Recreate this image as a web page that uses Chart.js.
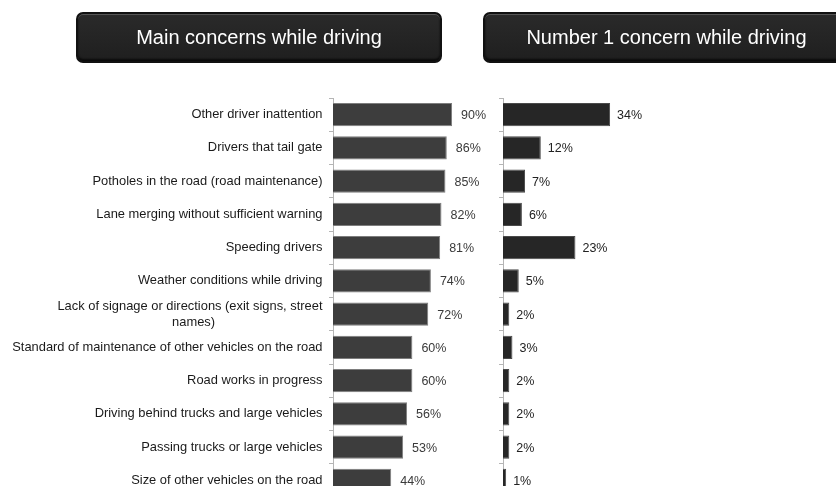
<!DOCTYPE html>
<html>
<head>
<meta charset="utf-8">
<script src="https://cdn.jsdelivr.net/npm/chart.js@4/dist/chart.umd.min.js"></script>
<style>
  html, body { margin: 0; padding: 0; width: 836px; height: 486px; overflow: hidden; background: #fff; }
  .cv { position: absolute; left: 0; top: 0; }
  .hdr {
    position: absolute; top: 12px; height: 51px; box-sizing: border-box;
    background: linear-gradient(#2a2a2a, #1f1f1f);
    border: 2px solid #111; border-radius: 7px;
    box-shadow: inset 0 1px 0 #555, inset 0 -2px 2px #0a0a0a;
    color: #fff; font-family: "Liberation Sans", Arial, sans-serif; font-size: 20px;
    display: flex; align-items: center; justify-content: center; z-index: 5;
  }
</style>
</head>
<body>
<div class="hdr" style="left:76px; width:366px;">Main concerns while driving</div>
<div class="hdr" style="left:483px; width:367px;">Number 1 concern while driving</div>
<canvas id="left" class="cv" width="836" height="520"></canvas>
<canvas id="right" class="cv" width="836" height="520"></canvas>
<script>
const categories = [
  "Other driver inattention",
  "Drivers that tail gate",
  "Potholes in the road (road maintenance)",
  "Lane merging without sufficient warning",
  "Speeding drivers",
  "Weather conditions while driving",
  ["Lack of signage or directions (exit signs, street", "names)" + " ".repeat(30)],
  "Standard of maintenance of other vehicles on the road",
  "Road works in progress",
  "Driving behind trucks and large vehicles",
  "Passing trucks or large vehicles",
  "Size of other vehicles on the road"
];
const mainConcerns = [90, 86, 85, 82, 81, 74, 72, 60, 60, 56, 53, 44];
const numberOneConcern = [34, 12, 7, 6, 23, 5, 2, 3, 2, 2, 2, 1];

const FONT = "'Liberation Sans', Arial, sans-serif";

function valueLabels(offset, color) {
  return {
    id: 'valueLabels',
    afterDatasetsDraw(chart) {
      const ctx = chart.ctx;
      const meta = chart.getDatasetMeta(0);
      const data = chart.data.datasets[0].data;
      ctx.save();
      ctx.font = "12.5px " + FONT;
      ctx.fillStyle = color;
      ctx.textAlign = 'left';
      ctx.textBaseline = 'middle';
      meta.data.forEach((bar, i) => {
        ctx.fillText(data[i] + '%', bar.x + offset, bar.y + 1);
      });
      ctx.restore();
    }
  };
}

function makeChart(id, values, opts) {
  return new Chart(document.getElementById(id), {
    type: 'bar',
    data: {
      labels: categories,
      datasets: [{
        data: values,
        backgroundColor: opts.fill,
        borderColor: opts.border,
        borderWidth: 1,
        borderSkipped: 'left',
        barPercentage: 0.7,
        categoryPercentage: 1.0
      }]
    },
    options: {
      indexAxis: 'y',
      responsive: false,
      animation: false,
      layout: { padding: { top: 98, bottom: 23, left: 0, right: opts.padRight } },
      plugins: { legend: { display: false }, tooltip: { enabled: false } },
      scales: {
        x: { display: false, min: 0, max: opts.max },
        y: {
          afterFit(scale) { scale.width = opts.axisWidth; },
          border: { display: true, color: '#b5b5b5', width: 1 },
          grid: { display: true, drawOnChartArea: false, drawTicks: true, tickLength: 4, color: '#b5b5b5', offset: true },
          ticks: {
            display: opts.showLabels,
            autoSkip: false,
            padding: 6.5,
            color: '#1a1a1a',
            font: { family: FONT, size: 12.9, lineHeight: 1.25 }
          }
        }
      }
    },
    plugins: [valueLabels(opts.labelOffset, opts.labelColor)]
  });
}

makeChart('left', mainConcerns, {
  fill: '#3d3d3d', border: '#7d7d7d', max: 100, axisWidth: 333,
  padRight: 836 - 333 - 132.3, showLabels: true, labelOffset: 9, labelColor: '#3a3a3a'
});
makeChart('right', numberOneConcern, {
  fill: '#262626', border: '#4a4a4a', max: 40, axisWidth: 503,
  padRight: 836 - 503 - 126, showLabels: false, labelOffset: 7, labelColor: '#222'
});
</script>
</body>
</html>
